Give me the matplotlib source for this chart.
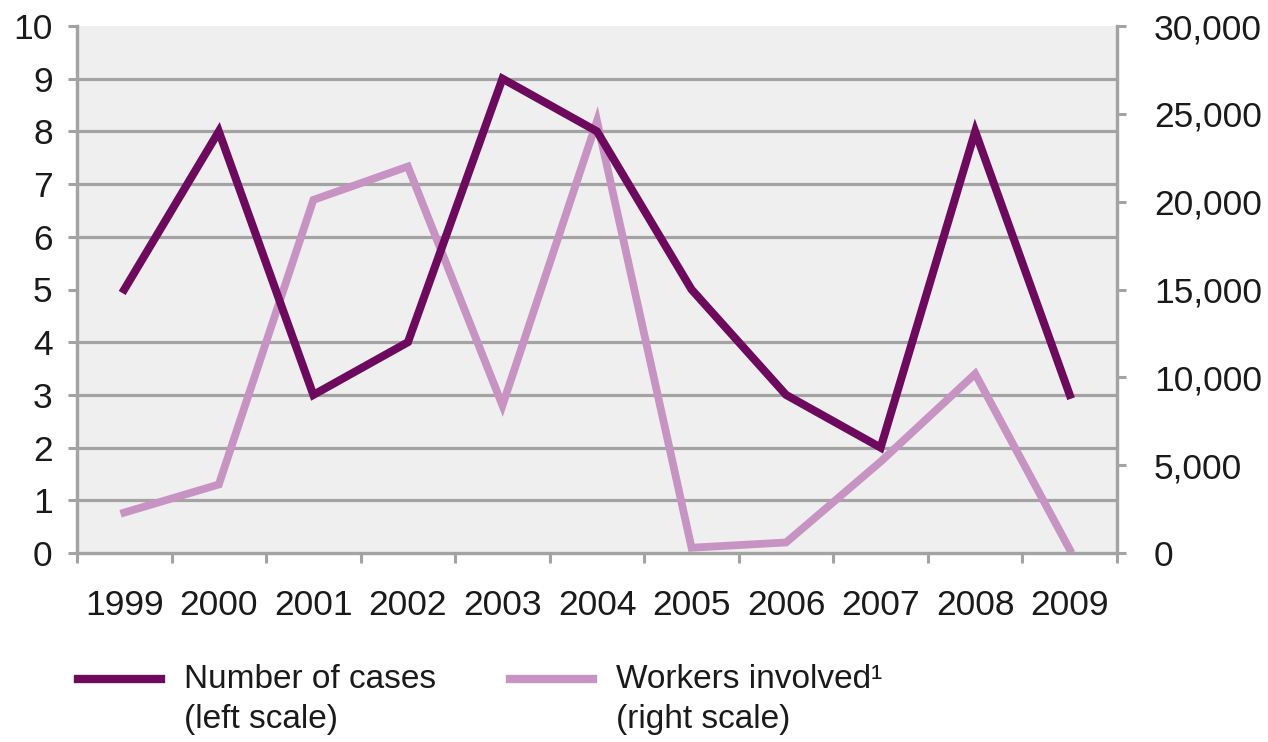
import matplotlib
matplotlib.use("Agg")
import matplotlib.pyplot as plt
from matplotlib.ticker import FuncFormatter, FixedLocator
from matplotlib.legend_handler import HandlerLine2D
import numpy as np

years = ["1999", "2000", "2001", "2002", "2003", "2004", "2005", "2006", "2007", "2008", "2009"]
cases = [5, 8, 3, 4, 9, 8, 5, 3, 2, 8, 3]
workers = [2300, 3900, 20100, 22000, 8400, 24600, 300, 600, 5200, 10200, 200]
cases_ticks = list(range(0, 11))
workers_ticks = [0, 5000, 10000, 15000, 20000, 25000, 30000]

FONT = ["Liberation Sans Narrow", "Liberation Sans", "DejaVu Sans"]
plt.rcParams["font.family"] = FONT

DARK = "#6d0a5d"
LIGHT = "#c793c2"
GRID = "#a3a3a3"
BG = "#efefef"
TXT = "#1a1a1a"


class TopLineHandler(HandlerLine2D):
    """Place the legend swatch level with the first text line."""
    def create_artists(self, legend, orig_handle, xdescent, ydescent, width,
                       height, fontsize, trans):
        arts = super().create_artists(legend, orig_handle, xdescent, ydescent,
                                      width, height, fontsize, trans)
        for a in arts:
            a.set_ydata(np.asarray(a.get_ydata()) + 0.62 * fontsize)
        return arts


fig = plt.figure(figsize=(12.68, 7.42), dpi=100)
fig.patch.set_facecolor("white")
ax = fig.add_axes([77 / 1268, 1 - 553 / 742, (1117 - 77) / 1268, (553 - 26) / 742])
ax2 = ax.twinx()

x = np.arange(len(years))

ax.set_zorder(ax2.get_zorder() + 1)
ax.patch.set_visible(False)
ax2.patch.set_visible(True)
ax2.patch.set_facecolor(BG)

ax2.set_ylim(0, 30000)
ax2.yaxis.set_minor_locator(FixedLocator(np.linspace(0, 30000, 11)))
ax2.grid(True, which="minor", axis="y", color=GRID, linewidth=2.3)
ax2.set_yticks(workers_ticks)
ax2.yaxis.set_major_formatter(FuncFormatter(lambda v, p: f"{int(v):,}"))
ax2.tick_params(axis="y", which="major", direction="out", length=6.5, width=2.2,
                color=GRID, labelsize=25.5, labelcolor=TXT, pad=20)
ax2.tick_params(axis="y", which="minor", length=0)
l2, = ax2.plot(x, workers, color=LIGHT, linewidth=5.6, solid_joinstyle="miter",
               label="Workers involved\u00b9\n(right scale)")

ax.set_ylim(0, 10)
ax.set_yticks(cases_ticks)
ax.tick_params(axis="y", direction="out", length=6.5, width=2.2, color=GRID,
               labelsize=25.5, labelcolor=TXT, pad=11)
l1, = ax.plot(x, cases, color=DARK, linewidth=5.8, solid_joinstyle="miter",
              label="Number of cases\n(left scale)")

ax.set_xlim(-0.5, len(years) - 0.5)
ax.set_xticks(np.arange(-0.5, len(years)), labels=[""] * (len(years) + 1))
ax.set_xticks(x, labels=years, minor=True)
ax.tick_params(axis="x", which="major", direction="out", length=7, width=2.2, color=GRID)
ax.tick_params(axis="x", which="minor", length=0, labelsize=25.5, labelcolor=TXT, pad=26)

for a in (ax, ax2):
    for s in a.spines.values():
        s.set_color(GRID)
        s.set_linewidth(2.3)
    a.spines["top"].set_visible(False)

leg = fig.legend(handles=[l1, l2], loc="upper left", bbox_to_anchor=(61 / 1268, 1 - 647 / 742),
                 ncol=2, frameon=False, fontsize=24, handlelength=2.5, handletextpad=0.7,
                 columnspacing=2.2, labelspacing=0.3, borderpad=0, labelcolor=TXT,
                 handler_map={l1: TopLineHandler(), l2: TopLineHandler()})
for t in leg.get_texts():
    t.set_linespacing(1.4)
for line in leg.get_lines():
    line.set_linewidth(6)

fig.savefig("out.png", dpi=100, facecolor="white")
